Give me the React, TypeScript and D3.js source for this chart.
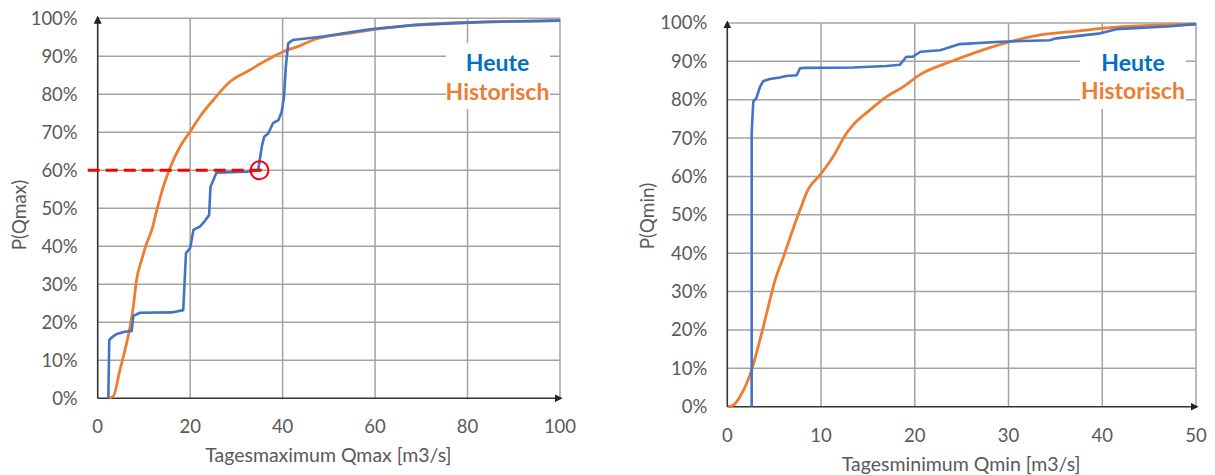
import { useEffect, useRef } from "react";
import * as d3 from "d3";

// Probability ticks shared by both panels
const PCT_TICKS = [0, 0.1, 0.2, 0.3, 0.4, 0.5, 0.6, 0.7, 0.8, 0.9, 1];
const QMAX_TICKS = [0, 20, 40, 60, 80, 100];
const QMIN_TICKS = [0, 10, 20, 30, 40, 50];
const LEGEND_LABELS = ["Heute", "Historisch"];

// Tagesmaximum (x = m3/s, y = P)
const qmaxHeute: [number, number][] = [
  [2.3, 0], [2.5, 0.153], [3.2, 0.162], [4.1, 0.169], [5.9, 0.175], [7.35, 0.177],
  [7.7, 0.217], [9.15, 0.225], [16, 0.226], [18.5, 0.232], [19.1, 0.382],
  [20, 0.395], [20.7, 0.443], [22.1, 0.452], [23.2, 0.467], [24.1, 0.482],
  [24.4, 0.557], [25, 0.574], [25.7, 0.594], [32.2, 0.596], [34.7, 0.6],
  [35.5, 0.662], [36, 0.688], [36.9, 0.697], [37.9, 0.724], [39.1, 0.732],
  [39.8, 0.754], [40.3, 0.794], [40.7, 0.873], [41.2, 0.934], [42.2, 0.943],
  [48.8, 0.952], [53.9, 0.962], [58.9, 0.971], [68.3, 0.982], [82.7, 0.99],
  [100, 0.994],
];
const qmaxHistorisch: [number, number][] = [
  [2.3, 0], [3.4, 0.006], [4.8, 0.074], [5.9, 0.127], [7.0, 0.188], [7.7, 0.241],
  [8.4, 0.311], [9.5, 0.364], [10.6, 0.408], [11.7, 0.443], [12.8, 0.496],
  [14.2, 0.557], [15.6, 0.605], [17.8, 0.662], [20, 0.702], [22.1, 0.741],
  [25, 0.785], [28.6, 0.833], [32.9, 0.864], [36.6, 0.89], [40.1, 0.912],
  [43.8, 0.928], [46.6, 0.943], [53.9, 0.96], [68.2, 0.982], [82.7, 0.99],
  [100, 0.994],
];

// Tagesminimum
const qminHeute: [number, number][] = [
  [2.6, 0], [2.6, 0.712], [2.77, 0.795], [3.1, 0.804], [3.5, 0.834], [3.85, 0.849],
  [4.55, 0.854], [5.6, 0.858], [6.3, 0.862], [7.4, 0.864], [7.75, 0.882],
  [8.3, 0.883], [13.4, 0.884], [17, 0.888], [18.4, 0.891], [19.1, 0.912],
  [19.8, 0.912], [20.6, 0.925], [22.7, 0.929], [24.8, 0.945], [29.1, 0.951],
  [34.4, 0.955], [35.1, 0.96], [39.8, 0.973], [41.5, 0.984], [46.9, 0.991],
  [50, 0.997],
];
const qminHistorisch: [number, number][] = [
  [0.1, 0], [0.64, 0.004], [1.35, 0.026], [2.07, 0.061], [2.6, 0.096], [3.1, 0.139],
  [3.84, 0.208], [4.37, 0.261], [5.1, 0.33], [6.0, 0.391], [6.6, 0.434],
  [7.76, 0.513], [8.6, 0.565], [9.9, 0.604], [11.3, 0.652], [12.7, 0.712],
  [13.4, 0.734], [15.2, 0.773], [17.0, 0.808], [18.8, 0.834], [20.6, 0.866],
  [23.8, 0.899], [26.2, 0.921], [30.1, 0.951], [33.4, 0.969], [37.3, 0.979],
  [41.5, 0.989], [50, 0.997],
];

// Marked point on the Qmax panel
const MARKER_Q = 35;
const MARKER_P = 0.6;

const BLUE = "#4472C4";
const ORANGE = "#ED7D31";
const LEGEND_COLORS = ["#0070C0", "#ED7D31"];
const FONT = "Lato, 'Open Sans', sans-serif";

interface PanelConfig {
  left: number;
  right: number;
  top: number;
  bottom: number;
  xMax: number;
  xTicks: number[];
  xTitle: string;
  yTitle: string;
  yTitlePos: [number, number];
  heute: [number, number][];
  historisch: [number, number][];
  legendBox: [number, number, number, number];
  legendX: number;
  legendY: number[];
  marker?: [number, number];
}

const PANELS: PanelConfig[] = [
  {
    left: 97.7, right: 560, top: 18.3, bottom: 398.3,
    xMax: 100, xTicks: QMAX_TICKS,
    xTitle: "Tagesmaximum Qmax [m3/s]", yTitle: "P(Qmax)", yTitlePos: [19, 215],
    heute: qmaxHeute, historisch: qmaxHistorisch,
    legendBox: [446, 43, 104, 66], legendX: 497.5, legendY: [63, 91.7],
    marker: [MARKER_Q, MARKER_P],
  },
  {
    left: 727.3, right: 1196, top: 23, bottom: 406.7,
    xMax: 50, xTicks: QMIN_TICKS,
    xTitle: "Tagesminimum Qmin [m3/s]", yTitle: "P(Qmin)", yTitlePos: [647, 216],
    heute: qminHeute, historisch: qminHistorisch,
    legendBox: [1080, 33, 106, 76], legendX: 1133, legendY: [62.7, 91],
  },
];

function drawPanel(svg: d3.Selection<SVGSVGElement, unknown, null, undefined>, p: PanelConfig, id: number) {
  const x = d3.scaleLinear().domain([0, p.xMax]).range([p.left, p.right]);
  const y = d3.scaleLinear().domain([0, 1]).range([p.bottom, p.top]);
  const g = svg.append("g");

  // grid
  g.selectAll(".hgrid")
    .data(PCT_TICKS.slice(1))
    .join("line")
    .attr("x1", p.left).attr("x2", p.right)
    .attr("y1", (d) => y(d)).attr("y2", (d) => y(d))
    .attr("stroke", "#a3a3a3").attr("stroke-width", 1.5);
  g.selectAll(".vgrid")
    .data(p.xTicks.slice(1))
    .join("line")
    .attr("x1", (d) => x(d)).attr("x2", (d) => x(d))
    .attr("y1", p.top).attr("y2", p.bottom)
    .attr("stroke", "#a3a3a3").attr("stroke-width", 1.5);

  // legend box hides the grid behind the labels
  const [bx, by, bw, bh] = p.legendBox;
  g.append("rect").attr("x", bx).attr("y", by).attr("width", bw).attr("height", bh).attr("fill", "white");

  // axes with arrows
  const arrow = `arrow${id}`;
  const defs = svg.append("defs");
  defs.append("marker")
    .attr("id", arrow)
    .attr("viewBox", "0 0 10 10")
    .attr("refX", 8).attr("refY", 5)
    .attr("markerWidth", 5).attr("markerHeight", 5)
    .attr("orient", "auto")
    .append("path").attr("d", "M0,0L10,5L0,10Z").attr("fill", "#222");
  g.append("line")
    .attr("x1", p.left).attr("x2", p.left).attr("y1", p.bottom).attr("y2", p.top - 1)
    .attr("stroke", "#333").attr("stroke-width", 1.6).attr("marker-end", `url(#${arrow})`);
  g.append("line")
    .attr("x1", p.left).attr("x2", p.right + 1).attr("y1", p.bottom).attr("y2", p.bottom)
    .attr("stroke", "#333").attr("stroke-width", 1.6).attr("marker-end", `url(#${arrow})`);

  // tick labels
  g.selectAll(".ylab")
    .data(PCT_TICKS)
    .join("text")
    .attr("x", p.left - 20)
    .attr("y", (d) => y(d))
    .attr("dy", "0.35em")
    .attr("text-anchor", "end")
    .attr("fill", "#595959")
    .style("font-family", FONT)
    .style("font-size", "18.5px")
    .text((d) => d3.format(".0%")(d));
  g.selectAll(".xlab")
    .data(p.xTicks)
    .join("text")
    .attr("x", (d) => x(d))
    .attr("y", p.bottom + 28.5)
    .attr("dy", "0.35em")
    .attr("text-anchor", "middle")
    .attr("fill", "#595959")
    .style("font-family", FONT)
    .style("font-size", "18.5px")
    .text((d) => String(d));

  // titles
  g.append("text")
    .attr("x", (p.left + p.right) / 2 - 0.5)
    .attr("y", p.bottom + 57)
    .attr("dy", "0.35em")
    .attr("text-anchor", "middle")
    .attr("fill", "#595959")
    .style("font-family", FONT)
    .style("font-size", "19.5px")
    .text(p.xTitle);
  g.append("text")
    .attr("transform", `translate(${p.yTitlePos[0]},${p.yTitlePos[1]}) rotate(-90)`)
    .attr("dy", "0.35em")
    .attr("text-anchor", "middle")
    .attr("fill", "#595959")
    .style("font-family", FONT)
    .style("font-size", "19px")
    .text(p.yTitle);

  // curves
  const smooth = d3.line<[number, number]>().x((d) => x(d[0])).y((d) => y(d[1])).curve(d3.curveMonotoneX);
  const line = d3.line<[number, number]>().x((d) => x(d[0])).y((d) => y(d[1]));
  g.append("path").attr("d", smooth(p.historisch)).attr("fill", "none")
    .attr("stroke", ORANGE).attr("stroke-width", 2.8).attr("stroke-linejoin", "round");
  g.append("path").attr("d", line(p.heute)).attr("fill", "none")
    .attr("stroke", BLUE).attr("stroke-width", 2.6).attr("stroke-linejoin", "round");

  // legend labels
  LEGEND_LABELS.forEach((label, i) => {
    g.append("text")
      .attr("x", p.legendX)
      .attr("y", p.legendY[i])
      .attr("dy", "0.35em")
      .attr("text-anchor", "middle")
      .attr("fill", LEGEND_COLORS[i])
      .style("font-family", FONT)
      .style("font-size", "23px")
      .style("font-weight", "700")
      .text(label);
  });

  // marker: dashed line + circle
  if (p.marker) {
    const [mq, mp] = p.marker;
    g.append("line")
      .attr("x1", p.left - 10).attr("x2", x(mq) + 9.5)
      .attr("y1", y(mp)).attr("y2", y(mp))
      .attr("stroke", "#FF0000").attr("stroke-width", 3)
      .attr("stroke-dasharray", "12,6");
    g.append("circle")
      .attr("cx", x(mq)).attr("cy", y(mp)).attr("r", 9)
      .attr("fill", "none").attr("stroke", "#FF0000").attr("stroke-width", 2);
  }
}

export default function App() {
  const svgRef = useRef<SVGSVGElement>(null);

  useEffect(() => {
    if (!svgRef.current) return;
    const svg = d3.select(svgRef.current);
    svg.selectAll("*").remove();
    PANELS.forEach((p, i) => drawPanel(svg, p, i));
  }, []);

  return (
    <svg
      ref={svgRef}
      width={1215}
      height={475}
      style={{ position: "fixed", left: 0, top: 0, background: "white" }}
    />
  );
}
